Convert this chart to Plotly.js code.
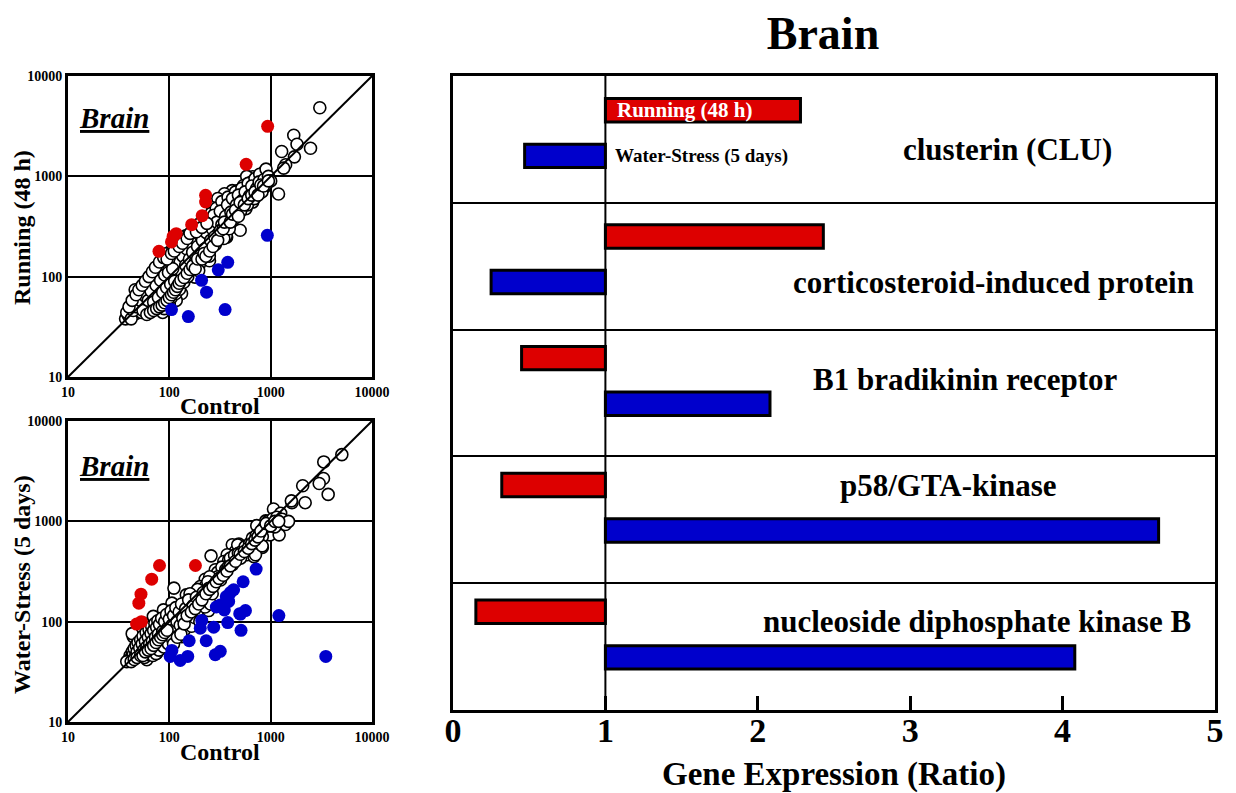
<!DOCTYPE html>
<html><head><meta charset="utf-8">
<script src="https://cdn.plot.ly/plotly-3.0.1.min.js"></script>
<style>html,body{margin:0;padding:0;background:#fff}#chart{width:1236px;height:793px}</style>
</head><body><div id="chart"></div>
<script>
// ---------- DATA ----------
const logTicks = [10, 100, 1000, 10000];
const logTickText = ['10', '100', '1000', '10000'];
const identityLine = [10, 10000];

// Top scatter: Control vs Running (48 h), unchanged genes (open circles)
const runOpenCtrl = [3055,1690,1820,2474,1284,1715,1405,1343,1195,871,822,664,580,640,871,540,418,721,600,475,350,326,424,530,664,365,476,570,392,330,500,368,301,268,326,253,310,380,424,213,259,301,364,198,268,198,240,180,213,249,158,198,146,179,136,125,132,108,117,86,100,
46,59,74,86,100,117,130,145,170,198,229,260,290,330,380,450,520,600,700,780,900,
37,39,40,41,42,43,44,45,46,47,48,49,50,51,52,53,54,55,56,57,58,59,60,61,62,63,64,65,66,67,68,69,70,71,72,73,74,75,76,77,78,79,80,81,82,83,84,85,86,87,88,89,90,91,92,93,94,95,96,97,98,99,100,102,104,105,106,108,110,112,114,116,118,120,122,124,126,128,130,133,136,139,142,145,148,152,155,158,162,166,170,175,180,185,190,195,200,206,212,218,225,232,240,248,256,265,275,285,295,305,318,330,345,360,375,390,405,420,440,460,480,505,530,560,590,620,650,690,730,770,820,860,900,950,1000,
38,42,44,48,52,55,58,62,66,70,74,78,82,86,90,94,98,103,108,113,
60,65,70,75,80,85,90,95,100,105,110,115,120,125,130,140,150,160,170,180,190,210,220,230,250,270,280,300,320,340,350,400,420,450,480,500,550,600,650,700,750,800,850,950,
40,43,47,50,54,58,63,68,73,80,88,95,105,112,125,135,150,160,185,210,235];
const runOpenRun = [4820,2565,2090,1905,1770,1564,1303,1207,667,1122,1014,990,1000,870,780,810,720,720,690,720,670,493,514,514,554,456,422,476,363,393,290,248,601,486,486,386,386,437,545,332,307,307,255,285,219,210,195,175,169,144,155,133,124,99,106,78,68,91,58,44,53,
74,91,119,144,175,195,227,255,285,336,386,430,480,560,620,700,760,850,950,1050,1180,
38,42,40,45,48,41,52,46,58,43,55,62,47,66,52,44,60,70,50,78,57,45,66,84,52,73,46,95,60,80,54,100,68,48,88,110,60,77,125,52,95,68,135,84,56,105,74,150,62,115,90,48,160,80,128,66,100,170,55,140,86,118,72,160,95,62,130,185,110,80,150,68,200,125,95,170,75,140,210,110,160,88,235,130,190,100,260,150,215,120,175,245,140,300,200,115,260,165,230,320,190,275,350,160,230,300,410,210,350,270,450,330,240,400,520,300,440,600,380,520,650,450,580,700,520,640,800,600,760,880,700,930,820,1000,900,
44,38,46,50,58,46,64,58,72,56,82,62,92,70,104,78,110,84,120,90,
42,44,46,48,50,52,55,58,62,66,70,74,80,86,92,98,108,118,128,120,150,150,170,160,180,200,250,230,290,300,350,350,420,460,400,550,520,600,650,700,650,820,800,900,
50,58,66,74,82,90,100,112,124,140,155,150,170,180,200,215,240,270,280,310,340];
// Top scatter: up-regulated (red) and down-regulated (blue)
const runUpCtrl = [79,105,109,117,166,211,228,228,573,934];
const runUpRun  = [179,222,252,268,330,405,555,647,1318,3150];
const runDownCtrl = [105,154,208,233,304,377,355,927];
const runDownRun  = [47,40,92,70,117,139,47,258];

// Bottom scatter: Control vs Water-Stress (5 days)
const wsOpenCtrl = [5040,3342,3320,3013,3694,2070,1622,2190,1066,1256,894,1000,1125,1457,1400,729,827,985,1213,827,684,486,418,540,827,447,372,588,684,505,345,433,258,111,147,284,385,473,585,708,824,226,284,202,254,161,202,244,180,149,114,106,87.5,119,133,94,75,60,44,43,55,69.5,
940,1050,1150,1300,1500,1100,960,300,330,360,400,440,480,520,560,620,660,720,780,860,300,320,350,380,420,250,270,230,210,190,170,220,160,150,140,130,125,175,200,240,
40,41,42,43,44,45,46,47,48,49,50,51,52,53,54,55,56,57,58,59,60,61,62,63,64,65,66,67,68,69,70,71,72,73,74,75,76,77,78,79,80,82,84,86,88,90,92,94,96,98,100,102,104,106,108,110,113,116,119,122,125,128,132,136,140,145,150,155,160,166,172,178,185,192,200,208,216,225,235,245,255,265,275,
38,42,45,48,52,55,58,62,66,70,74,78,82,86,90,95,
110,120,130,140,150,165,180,195,210,230,250,270,290,310,340,370,400,450,500,550,600,650,700,750,800,900,1000,1100,1200,1600];
const wsOpenWs = [4625,3909,2672,2384,1855,2260,1534,1534,1328,1202,1010,1010,965,990,930,906,822,733,733,705,605,594,585,540,550,501,464,464,445,430,398,398,453,216,185,329,413,583,520,464,570,265,261,224,200,153,142,129,113,97,122,153,131,83,71,61,48.6,41.8,71,76,97,113,
1000,1060,1100,1050,1000,880,900,310,350,330,430,460,480,500,560,600,680,720,760,870,280,260,300,350,370,280,240,230,200,210,170,180,190,160,150,140,110,150,170,250,
42,46,44,50,47,54,45,58,50,62,45,55,66,48,60,72,52,44,64,78,56,47,70,84,60,50,76,90,64,46,82,55,96,70,48,88,60,102,75,52,94,66,108,80,56,100,72,118,86,60,106,78,128,92,66,115,84,138,100,72,125,92,150,108,82,135,100,165,120,90,145,110,175,130,100,160,195,140,175,215,150,190,230,
40,40,42,44,46,46,50,52,54,58,62,66,70,74,78,82,
60,70,75,95,115,125,135,150,165,190,210,225,250,270,290,320,360,400,470,500,540,600,650,700,800,950,900,1000,1000,1600];
const wsUpCtrl = [80,181,67,52.5,50,47.5,53];
const wsUpWs   = [363,363,265,188,153,94.6,100];
const wsDownCtrl = [3500,1205,719,535,431,400,365,385,318,291,349,564,495,377,209,202,274,510,157,231,106,102,128,152,284,318,372,504];
const wsDownWs   = [45,115,334,250,208,195,178,159,147,140,131,129,120,98,103,86,88,82,64.5,64.5,51.7,45,41,45,46.8,50.6,168,119];

// Bar chart: gene expression ratios
const genes = ['clusterin (CLU)', 'corticosteroid-induced protein', 'B1 bradikinin receptor', 'p58/GTA-kinase', 'nucleoside diphosphate kinase B'];
const runningRatio = [2.28, 2.43, 0.45, 0.32, 0.15];
const waterRatio   = [0.47, 0.25, 2.08, 4.63, 4.08];
const ratioTicks = [0, 1, 2, 3, 4, 5];

// ---------- STYLE / LAYOUT ----------
const RED = '#dd0000', BLUE = '#0000cc';
const FONT = 'Liberation Serif, Times New Roman, serif';
const W = 1236, H = 793;
const px = v => v / W, py = v => 1 - v / H;
const rowShift = [0.045, 0.04, 0, 0, 0];
const redPos = genes.map((g, i) => i + 0.225 + rowShift[i]);
const bluePos = genes.map((g, i) => i + 0.585 + rowShift[i]);

function openStyle() { return {symbol: 'circle', size: 12, color: '#fff', line: {color: '#000', width: 1.6}}; }
function solid(c) { return {symbol: 'circle', size: 13, color: c, line: {width: 0}}; }

const traces = [
  {type: 'scatter', mode: 'markers', x: runOpenCtrl, y: runOpenRun, xaxis: 'x', yaxis: 'y', marker: openStyle()},
  {type: 'scatter', mode: 'lines', x: identityLine, y: identityLine, xaxis: 'x', yaxis: 'y', line: {color: '#000', width: 2}},
  {type: 'scatter', mode: 'markers', x: runUpCtrl, y: runUpRun, xaxis: 'x', yaxis: 'y', marker: solid(RED)},
  {type: 'scatter', mode: 'markers', x: runDownCtrl, y: runDownRun, xaxis: 'x', yaxis: 'y', marker: solid(BLUE)},

  {type: 'scatter', mode: 'markers', x: wsOpenCtrl, y: wsOpenWs, xaxis: 'x2', yaxis: 'y2', marker: openStyle()},
  {type: 'scatter', mode: 'lines', x: identityLine, y: identityLine, xaxis: 'x2', yaxis: 'y2', line: {color: '#000', width: 2}},
  {type: 'scatter', mode: 'markers', x: wsUpCtrl, y: wsUpWs, xaxis: 'x2', yaxis: 'y2', marker: solid(RED)},
  {type: 'scatter', mode: 'markers', x: wsDownCtrl, y: wsDownWs, xaxis: 'x2', yaxis: 'y2', marker: solid(BLUE)},

  {type: 'bar', orientation: 'h', name: 'Running (48 h)', base: 1,
   x: runningRatio.map(r => r - 1), y: redPos, width: 0.185,
   xaxis: 'x3', yaxis: 'y3', marker: {color: RED, line: {color: '#000', width: 3}}},
  {type: 'bar', orientation: 'h', name: 'Water-Stress (5 days)', base: 1,
   x: waterRatio.map(r => r - 1), y: bluePos, width: 0.185,
   xaxis: 'x3', yaxis: 'y3', marker: {color: BLUE, line: {color: '#000', width: 3}}}
];

const boldTick = {family: FONT, size: 14, color: '#000', weight: 'bold'};
function logAxis(domain, extra) {
  return Object.assign({
    type: 'log', range: [1, 4], domain: domain, tickvals: logTicks, ticktext: logTickText,
    showgrid: true, gridcolor: '#000', gridwidth: 2, showline: true, mirror: true, linecolor: '#000', linewidth: 3,
    ticks: '', zeroline: false, automargin: false, tickfont: boldTick, fixedrange: true
  }, extra || {});
}

const sxDom = [px(68), px(372)];
const layout = {
  width: W, height: H, margin: {l: 0, r: 0, t: 0, b: 0}, showlegend: false,
  paper_bgcolor: '#fff', plot_bgcolor: '#fff', font: {family: FONT, color: '#000'},
  title: {text: 'Brain', font: {family: FONT, size: 46, weight: 'bold', color: '#000'}, x: px(823), xanchor: 'center', y: py(33), yanchor: 'middle'},
  xaxis: logAxis(sxDom, {anchor: 'y'}),
  yaxis: logAxis([py(377), py(76)], {anchor: 'x'}),
  xaxis2: logAxis(sxDom, {anchor: 'y2'}),
  yaxis2: logAxis([py(722), py(421)], {anchor: 'x2'}),
  xaxis3: {domain: [px(453), px(1215)], anchor: 'y3', range: [0, 5], tickvals: ratioTicks, ticks: 'inside', ticklen: 14, tickwidth: 3, tickcolor: '#000',
    ticklabelstandoff: -12,
    showline: true, mirror: true, linecolor: '#000', linewidth: 3, showgrid: false, zeroline: false, automargin: false, fixedrange: true,
    tickfont: {family: FONT, size: 34, color: '#000', weight: 'bold'},
    title: {text: 'Gene Expression (Ratio)', font: {family: FONT, size: 33, color: '#000', weight: 'bold'}, standoff: 16}},
  yaxis3: {domain: [py(710), py(76)], anchor: 'x3', range: [5, 0], tickvals: [1, 2, 3, 4], showticklabels: false, ticks: '',
    showgrid: true, gridcolor: '#000', gridwidth: 2, showline: true, mirror: true, linecolor: '#000', linewidth: 3, zeroline: false, automargin: false, fixedrange: true},
  shapes: [{type: 'line', xref: 'x3', yref: 'y3 domain', x0: 1, x1: 1, y0: 0, y1: 1, line: {color: '#000', width: 2}}],
  annotations: []
};

// Scatter axis titles and panel labels
const ann = (x, y, text, size, extra) => layout.annotations.push(Object.assign({xref: 'paper', yref: 'paper', x: px(x), y: py(y), text: text, showarrow: false,
  xanchor: 'center', yanchor: 'middle', font: {family: FONT, size: size, weight: 'bold', color: '#000'}}, extra || {}));
ann(220, 406, 'Control', 24);
ann(220, 752, 'Control', 24);
ann(22, 228, 'Running (48 h)', 24, {textangle: -90});
ann(22, 585, 'Water-Stress (5 days)', 24, {textangle: -90});
ann(114, 118, '<i><u>Brain</u></i>', 29);
ann(114, 466, '<i><u>Brain</u></i>', 29);

// Gene labels (positions in bar-chart data units)
const geneLabelPos = [[3.64, 0.58, 'center'], [4.875, 1.63, 'right'], [3.36, 2.39, 'center'], [3.25, 3.23, 'center'], [3.44, 4.30, 'center']];
genes.forEach((g, i) => {
  const p = geneLabelPos[i];
  layout.annotations.push({xref: 'x3', yref: 'y3', x: p[0], y: p[1], text: g, showarrow: false, xanchor: p[2], yanchor: 'middle',
    font: {family: FONT, size: 31, weight: 'bold', color: '#000'}});
});
// Series labels on first gene's bars
layout.annotations.push({xref: 'x3', yref: 'y3', x: 1.06, y: redPos[0], text: 'Running (48 h)', showarrow: false, xanchor: 'left', yanchor: 'middle',
  font: {family: FONT, size: 21, weight: 'bold', color: '#fff'}});
layout.annotations.push({xref: 'x3', yref: 'y3', x: 1.05, y: bluePos[0], text: 'Water-Stress (5 days)', showarrow: false, xanchor: 'left', yanchor: 'middle',
  font: {family: FONT, size: 19, weight: 'bold', color: '#000'}});

Plotly.newPlot('chart', traces, layout, {staticPlot: true, displayModeBar: false});
</script>
</body></html>
